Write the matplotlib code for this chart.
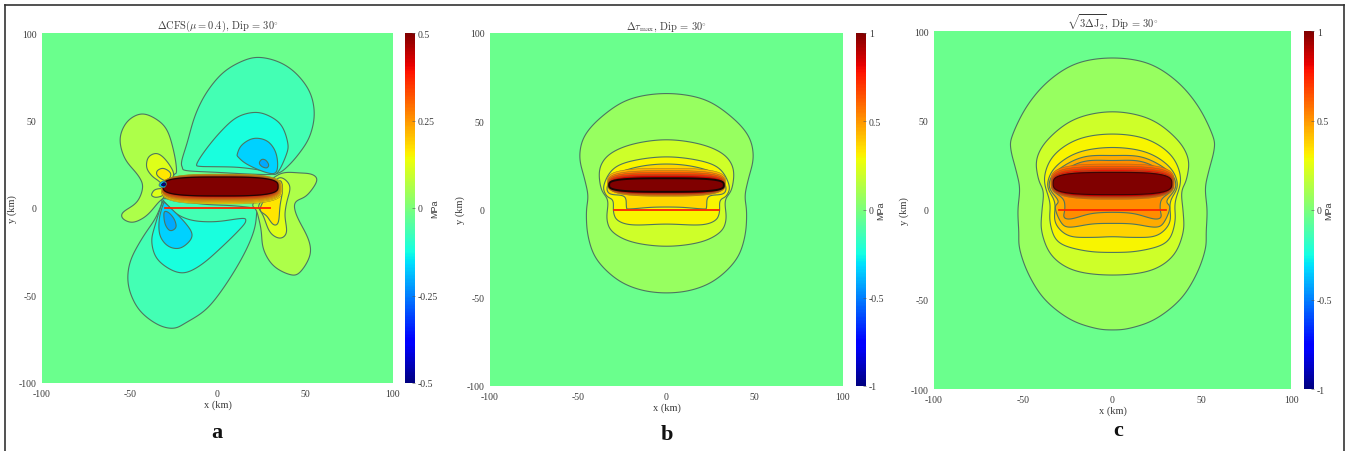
import numpy as np
import matplotlib
matplotlib.use("Agg")
import matplotlib.pyplot as plt
from matplotlib.cm import ScalarMappable
from matplotlib.colors import Normalize
from matplotlib.lines import Line2D

plt.rcParams["font.family"] = ["Liberation Serif", "DejaVu Serif"]
plt.rcParams["mathtext.fontset"] = "cm"
plt.rcParams["axes.unicode_minus"] = False

W, H = 1349, 452

# ---- panel a: stress lobes, (x km, y km), value in MPa
a_ne1 = [(-20.4, 27), (-17.2, 37.5), (-12.8, 52.8), (-6.2, 66.1), (3.3, 77.5), (14.7, 84.2), (24.2, 86.1),
         (35.6, 83.2), (45.1, 76.6), (52.7, 66.1), (55.2, 53.7), (52.7, 41.3), (47, 31.8), (39.4, 23.2),
         (32.8, 19.4), (18.5, 19.4), (-0.5, 20.4), (-17.6, 21.3), (-20, 23.2)]
a_ne2 = [(-11.9, 25.1), (-7.1, 32.8), (1.4, 43.2), (10.9, 51.8), (21.4, 54.7), (29.9, 52.4), (36.6, 47),
         (40, 37.5), (39.4, 30.9), (33.7, 19.4), (28, 21), (12.8, 23.2), (-2.4, 23.6), (-10, 23.8)]
a_ne3 = [(11.3, 30.9), (13.8, 36), (20.4, 39.8), (28, 38.5), (32.8, 32.8), (34.3, 25.1), (32.8, 19.8),
         (26.1, 20.8), (16.6, 25.1), (11.9, 29)]
a_ne4 = [(23.8, 25.7), (25.3, 27.8), (27.6, 27.2), (29.2, 24.6), (28, 22.9), (25.3, 23.7)]
a_sw1 = [(21.4, -0.2), (22.3, -2.5), (20.8, -13), (14.7, -27.2), (4.3, -44.4), (-6.2, -57.7), (-17.6, -65.3),
         (-25.2, -68.8), (-34.7, -66.3), (-45.1, -57.7), (-50.8, -44.4), (-49.9, -31), (-43.2, -17.7),
         (-35.6, -6.3), (-31.8, 2.3), (-29.9, 5.5), (-10, 2.3), (9, 1.3)]
a_sw2 = [(-31.4, 3.2), (-35.6, -10), (-37.5, -19.6), (-33.7, -30.1), (-21.4, -37.2), (-10, -33), (3.3, -21.5),
         (13.8, -11), (16.1, -7.2), (13.8, -5.9), (-0.5, -7.8), (-13.8, -7.2), (-23.3, -3.4), (-30, 3.2)]
a_sw3 = [(-30.9, 2.3), (-33.2, -6.3), (-32.8, -15.8), (-28, -21.9), (-21.4, -23), (-15.7, -18.7),
         (-14.7, -13.9), (-19.5, -7.2), (-26.1, -0.6), (-29.9, 2.9)]
a_sw4 = [(-30.5, -2.5), (-29.9, -9.1), (-27, -13), (-23.6, -11), (-24.7, -6.3), (-28, -2.5)]
a_nw1 = [(-23.3, 20.8), (-24.8, 31.8), (-29, 45.1), (-36.6, 51.8), (-44.2, 53.7), (-51.8, 49), (-55.6, 39.4),
         (-52.7, 28), (-45.1, 18.5), (-42.6, 11.8), (-46, 3.2), (-54, -2.5), (-53.7, -6.3), (-48, -8.2),
         (-40.4, -4.4), (-33.7, 3.2), (-30, 7), (-25.2, 18.5)]
a_nw2 = [(-25.2, 20.8), (-29.9, 28), (-34.7, 31.2), (-39.4, 29), (-40.4, 23.2), (-37.5, 18.5), (-33.7, 15.6),
         (-29.9, 12.8), (-26, 16.6)]
a_nw3 = [(-27, 20.4), (-30.9, 22.7), (-34.3, 21.3), (-34.3, 18.5), (-29.9, 15.6), (-27, 17.5)]
a_w2 = [(-37.5, 8), (-35.6, 10.5), (-31.2, 10.9), (-30.9, 7.4), (-34.7, 6.1), (-37, 6.7)]
a_e1 = [(33.7, 18.9), (47, 20), (54.6, 18.9), (56.5, 15), (50.8, 7), (44.2, 3.2), (45.1, -4.4), (51.8, -17.7),
        (52.7, -27.2), (47, -36.8), (41.3, -38.1), (31.8, -33), (26.1, -23.4), (24.8, -12), (22.3, -1.5),
        (20.4, 3.2)]
a_e2 = [(34.7, 17.5), (41.3, 12.8), (39.4, 3.2), (38.4, -4.4), (39.4, -13.9), (35.6, -17.3), (29.9, -13.9),
        (26.1, -4.4), (23.3, 1.3), (28, 7)]
a_e3 = [(34.7, 15.6), (37.1, 10.9), (35.6, 1.3), (34.7, -8.2), (31.8, -9.5), (28, -4.4), (24.2, 0.4)]
a_tip1 = [(-33.5, 13), (-31, 15.5), (-29, 14), (-30.5, 11.5)]
a_tip2 = [(-32, 13.2), (-30.5, 14.5), (-29.5, 13.5), (-30.5, 12.5)]
a_lobes = [a_ne1, a_ne2, a_ne3, a_ne4, a_sw1, a_sw2, a_sw3, a_sw4, a_nw1, a_nw2, a_nw3, a_w2, a_e1, a_e2, a_e3]
a_lobe_values = [-0.07, -0.12, -0.17, -0.21, -0.07, -0.12, -0.17, -0.21, 0.06, 0.12, 0.167, 0.12, 0.06, 0.12, 0.167]

# central bands: left, right, bottom, top, value
a_left = [-32, -32, -31.5, -31.5, -31.5, -31.5, -31, -31, -31]
a_right = [37, 36.4, 36, 35.6, 35.2, 34.8, 34.5, 34.5, 34.5]
a_bottom = [2.3, 2.9, 3.5, 4.1, 4.7, 5.2, 5.7, 6.2, 6.9]
a_top = [19.4, 19.2, 19, 18.8, 18.6, 18.4, 18.2, 18, 17.7]
a_values = [0.16, 0.19, 0.22, 0.26, 0.3, 0.34, 0.38, 0.43, 0.5]
a_background = -0.02

# ---- panel b: right halves of symmetric outlines
b_o1 = [(0, 65.8), (20.9, 62.6), (36, 53.2), (46.4, 41.8), (49.2, 29.6), (46.4, 17.3), (44.5, 7.8), (45.4, -1.6),
        (44.5, -14.8), (39.8, -28), (28.4, -39.4), (15.2, -45.4), (0, -47.3)]
b_o2 = [(0, 39.6), (19, 37.1), (32.2, 31.4), (37.9, 22.9), (37, 11.6), (33.2, 5), (33.8, -5.4), (30.4, -12.9),
        (19, -18.6), (0, -20.9)]
b_o3 = [(0, 29.9), (19, 27.7), (30.3, 23), (35.6, 13.5), (34, 7.8), (30.3, 5), (30, -1.6), (27.5, -6.3),
        (19, -8.8), (0, -8.2)]
b_o4 = [(0, 25.8), (15.2, 24.4), (28.4, 20.1), (33.5, 13.5), (32.2, 8.8), (23.7, 7.5), (22.7, 1.2), (20.9, 0.3),
        (9.5, 1.2), (0, 1.4)]
b_outlines = [b_o1, b_o2, b_o3, b_o4]
b_outline_values = [0.066, 0.2, 0.3, 0.366]
b_halfwidth = [33.5, 33.2, 33, 32.8, 32.5, 32.5]
b_bottom = [7.5, 7.8, 8.2, 8.6, 8.9, 10]
b_top = [23.3, 22, 21, 20, 19.2, 17.7]
b_values = [0.45, 0.55, 0.65, 0.75, 0.85, 1.0]
b_background = -0.04

# ---- panel c
c_o1 = [(0, 85), (20, 82), (36, 72), (48, 58), (56, 42), (57, 34), (54, 22), (52, 12), (53, 0), (52.5, -12),
        (52, -22), (47, -36), (38, -50), (24, -61), (10, -66), (0, -67)]
c_o2 = [(0, 55), (21, 50.9), (36, 39.7), (42.5, 28.5), (41.5, 17.3), (38.7, 9.9), (39.6, -1.3), (39.6, -12.5),
        (34, -25.6), (21, -34), (0, -36.4)]
c_o3 = [(0, 42.5), (19.1, 39.7), (33.1, 30.4), (38.3, 17.3), (35, 4.3), (35, -6.9), (30.3, -18.1), (15.4, -22.8),
        (0, -23.7)]
c_o4 = [(0, 35), (19.1, 32.3), (32.2, 23.9), (36.5, 13.6), (32.2, 4.3), (32.2, -6.9), (24.7, -14.4),
        (11.7, -15.3), (0, -14.9)]
c_o5 = [(0, 30.4), (17.3, 29.5), (32.2, 21.1), (35.5, 12.7), (30.3, 5.2), (32.2, 1.5), (29.4, -6), (24.7, -9.7),
        (11.7, -7.8), (0, -7.5)]
c_o6 = [(0, 27.6), (17.3, 27), (31.3, 18.8), (34, 11.8), (27.6, 6.2), (26.7, 0.6), (27.2, -4), (23, -5),
        (12, -2), (0, -1.3)]
c_outlines = [c_o1, c_o2, c_o3, c_o4, c_o5, c_o6]
c_outline_values = [0.066, 0.2, 0.3, 0.37, 0.46, 0.52]
c_halfwidth = [34.5, 34.2, 34, 33.8, 33.5, 33.2]
c_bottom = [6, 6.4, 6.8, 7.2, 7.6, 8.6]
c_top = [25.7, 24.4, 23.3, 22.4, 21.6, 21]
c_values = [0.58, 0.65, 0.72, 0.8, 0.88, 1.0]
c_background = -0.04

fault_x = [-30, 30]
fault_y = [0, 0]

limits = [-100, -50, 0, 50, 100]
a_ticks = [-0.5, -0.25, 0, 0.25, 0.5]
bc_ticks = [-1, -0.5, 0, 0.5, 1]
a_title = r"$\Delta\mathrm{CFS}(\mu=0.4),\,\mathrm{Dip}\,=\,30^{\circ}$"
b_title = r"$\Delta\tau_{\mathrm{max}},\,\mathrm{Dip}\,=\,30^{\circ}$"
c_title = r"$\sqrt{3\Delta\mathrm{J}_2},\,\mathrm{Dip}\,=\,30^{\circ}$"

LINE = "#4d7560"
TEXT = "#3a3a3a"


def smooth(points, n=14):
    # closed Catmull-Rom through the outline points, then a light rounding, for drawing only
    p = np.array(points, dtype=float)
    out = []
    for i in range(len(p)):
        p0, p1, p2, p3 = p[i - 1], p[i], p[(i + 1) % len(p)], p[(i + 2) % len(p)]
        for t in np.linspace(0, 1, n, endpoint=False):
            out.append(0.5 * (2 * p1 + (p2 - p0) * t + (2 * p0 - 5 * p1 + 4 * p2 - p3) * t ** 2
                              + (3 * p1 - p0 - 3 * p2 + p3) * t ** 3))
    out = np.array(out)
    kernel = np.ones(9) / 9
    wrapped = np.vstack([out[-9:], out, out[:9]])
    x = np.convolve(wrapped[:, 0], kernel, mode="same")[9:-9]
    y = np.convolve(wrapped[:, 1], kernel, mode="same")[9:-9]
    return np.column_stack([x, y])


def mirror(half):
    # the outline is symmetric about x = 0
    left = [(-x, y) for x, y in reversed(half) if x != 0]
    return list(half) + left


def band(left, right, bottom, top, power=3.2):
    # rounded box for the tightly packed contours over the fault
    t = np.linspace(0, 2 * np.pi, 300)
    cx, cy = (left + right) / 2, (bottom + top) / 2
    a, b = (right - left) / 2, (top - bottom) / 2
    x = cx + a * np.sign(np.cos(t)) * np.abs(np.cos(t)) ** (2 / power)
    y = cy + b * np.sign(np.sin(t)) * np.abs(np.sin(t)) ** (2 / power)
    return np.column_stack([x, y])


def px_axes(fig, x0, y0, x1, y1):
    return fig.add_axes([x0 / W, 1 - y1 / H, (x1 - x0) / W, (y1 - y0) / H])


def draw_panel(fig, box, cbox, vmax, background, shapes, ticks, title, letter, letter_xy, mpa_x):
    norm = Normalize(-vmax, vmax)
    cmap = plt.cm.jet
    ax = px_axes(fig, *box)
    ax.set_facecolor(cmap(norm(background)))
    for xy, value, lw, edge in shapes:
        ax.fill(xy[:, 0], xy[:, 1], facecolor=cmap(norm(value)), edgecolor=edge, linewidth=lw, zorder=2)
    ax.plot(fault_x, fault_y, color="#ff2200", lw=1.3, zorder=3)
    ax.set_xlim(-100, 100)
    ax.set_ylim(-100, 100)
    ax.set_xticks(limits)
    ax.set_yticks(limits)
    ax.tick_params(length=0, labelsize=7, labelcolor=TEXT)
    ax.tick_params(axis="x", pad=4)
    ax.tick_params(axis="y", pad=4)
    for s in ax.spines.values():
        s.set_visible(False)
    ax.set_xlabel("x (km)", fontsize=7.5, labelpad=1, color=TEXT)
    ax.set_ylabel("y (km)", fontsize=7.5, labelpad=1, color=TEXT)
    ax.set_title(title, fontsize=7.5, pad=3, color=TEXT)

    cax = px_axes(fig, *cbox)
    cb = fig.colorbar(ScalarMappable(norm=norm, cmap=cmap), cax=cax, ticks=ticks)
    cb.set_ticklabels([f"{v:g}" for v in ticks])
    cb.ax.tick_params(direction="in", length=2, width=0.4, color="#555555", labelsize=7, pad=2, labelcolor=TEXT)
    cb.outline.set_visible(False)
    fig.text(mpa_x / W, 1 - (box[1] + box[3]) / 2 / H, "MPa", rotation=90, fontsize=6.5, color=TEXT,
             family=["Liberation Sans"], ha="center", va="center")
    fig.text(letter_xy[0] / W, 1 - letter_xy[1] / H, letter, fontsize=16, fontweight="bold", color="#111111",
             ha="center", va="center")


def rings(boxes, values, inner_lw, inner_edge):
    # thin contours between the bands, the innermost edge is nearly black
    last = len(values) - 1
    out = []
    for i, (box, v) in enumerate(zip(boxes, values)):
        if i == last:
            out.append((band(*box), v, inner_lw, inner_edge))
        else:
            out.append((band(*box), v, 0.3, "#8a6a25"))
    return out


fig = plt.figure(figsize=(W / 100, H / 100), dpi=100, facecolor="white")

a_shapes = [(smooth(o), v, 0.8, LINE) for o, v in zip(a_lobes, a_lobe_values)]
a_shapes += rings(list(zip(a_left, a_right, a_bottom, a_top)), a_values, 0.9, "#220505")
a_shapes.append((smooth(a_tip1), -0.2, 0.5, LINE))
a_shapes.append((smooth(a_tip2), -0.47, 0.5, "#1a0505"))

b_shapes = [(smooth(mirror(o)), v, 0.8, LINE) for o, v in zip(b_outlines, b_outline_values)]
b_shapes += rings([(-w, w, lo, hi) for w, lo, hi in zip(b_halfwidth, b_bottom, b_top)], b_values, 1.4, "#1a0505")

c_shapes = [(smooth(mirror(o)), v, 0.8, LINE) for o, v in zip(c_outlines, c_outline_values)]
c_shapes += rings([(-w, w, lo, hi) for w, lo, hi in zip(c_halfwidth, c_bottom, c_top)], c_values, 0.8, "#3a0505")

draw_panel(fig, (42, 34, 393, 384), (405, 34, 415, 384), 0.5, a_background, a_shapes, a_ticks, a_title,
           "a", (217, 433), 435)
draw_panel(fig, (490, 34, 843, 387), (856, 34, 866, 387), 1, b_background, b_shapes, bc_ticks, b_title,
           "b", (667, 435), 881)
draw_panel(fig, (934, 32, 1291, 390), (1304, 32, 1314, 390), 1, c_background, c_shapes, bc_ticks, c_title,
           "c", (1118, 431), 1329)

# frame round the whole figure, open at the bottom of the crop
for xs, ys in [((5, 5), (6, 452)), ((5, 1344), (6, 6)), ((1344, 1344), (6, 452))]:
    fig.add_artist(Line2D([x / W for x in xs], [1 - y / H for y in ys], color="#333333", lw=1.2))

fig.savefig("out.png", dpi=100)
